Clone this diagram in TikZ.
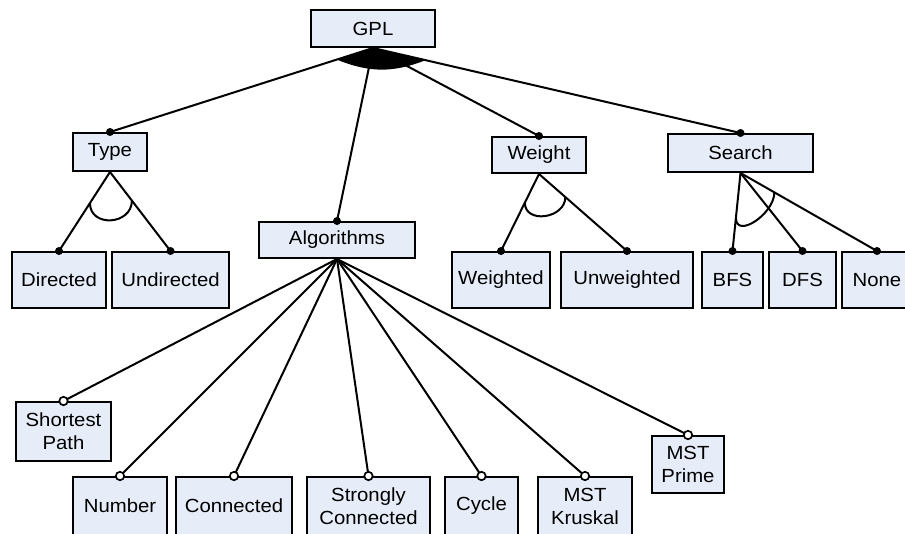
\documentclass[tikz,border=0pt]{standalone}
\usepackage{fontspec}
\setmainfont{Liberation Sans}[FakeStretch=1.07]
\usetikzlibrary{calc}
\definecolor{boxfill}{RGB}{231,237,248}
\begin{document}
\begin{tikzpicture}[x=1pt,y=1pt,
  feat/.style={draw, fill=boxfill, line width=2pt, inner sep=0pt, align=center,
               font=\fontsize{19}{23}\selectfont},
  link/.style={line width=2pt},
  mandot/.style={fill=black},
  optdot/.style={fill=white, draw=black, line width=1.7pt}]
\clip (0,0) rectangle (905,-533);

% feature boxes
\node[feat, minimum width=124pt, minimum height=37pt] (gpl)    at (373,-28.5) {GPL};
\node[feat, minimum width=74pt,  minimum height=38pt] (type)   at (110,-152) {Type};
\node[feat, minimum width=156pt, minimum height=36pt] (algo)   at (337,-240) {Algorithms};
\node[feat, minimum width=94pt,  minimum height=36pt] (weight) at (539,-155) {Weight};
\node[feat, minimum width=145pt, minimum height=38pt] (search) at (740.5,-153) {Search};

\node[feat, minimum width=94pt,  minimum height=56pt] (dir)    at (59,-280) {Directed};
\node[feat, minimum width=117pt, minimum height=56pt] (undir)  at (170.5,-280) {Undirected};
\node[feat, minimum width=98pt,  minimum height=56pt] (wtd)    at (501,-280) {Weighted};
\node[feat, minimum width=132pt, minimum height=56pt] (unwtd)  at (627,-280) {Unweighted};
\node[feat, minimum width=61pt,  minimum height=56pt] (bfs)    at (732.5,-280) {BFS};
\node[feat, minimum width=67pt,  minimum height=56pt] (dfs)    at (802.5,-280) {DFS};
\node[feat, minimum width=70pt,  minimum height=56pt] (none)   at (877,-280) {None};

\node[feat, minimum width=95pt,  minimum height=59pt] (short)  at (63.5,-431.5) {Shortest\\Path};
\node[feat, minimum width=94pt,  minimum height=58pt] (number) at (120,-506) {Number};
\node[feat, minimum width=116pt, minimum height=58pt] (conn)   at (234,-506) {Connected};
\node[feat, minimum width=123pt, minimum height=58pt] (strong) at (368.5,-506) {Strongly\\Connected};
\node[feat, minimum width=73pt,  minimum height=58pt] (cycle)  at (481.5,-506) {Cycle};
\node[feat, minimum width=94pt,  minimum height=58pt] (krus)   at (585,-506) {MST\\Kruskal};
\node[feat, minimum width=72pt,  minimum height=57pt] (prime)  at (688,-464.5) {MST\\Prime};

% or-group under the root
\fill (gpl.south) -- ($(gpl.south)!38pt!(type.north)$)
      to[bend right=22] ($(gpl.south)!54pt!(search.north)$) -- cycle;

% connectors
\foreach \c in {type,algo,weight,search}
  \draw[link] (gpl.south) -- (\c.north);
\foreach \c in {dir,undir}
  \draw[link] (type.south) -- (\c.north);
\foreach \c in {wtd,unwtd}
  \draw[link] (weight.south) -- (\c.north);
\foreach \c in {bfs,dfs,none}
  \draw[link] (search.south) -- (\c.north);
\foreach \c in {short,number,conn,strong,cycle,krus,prime}
  \draw[link] (algo.south) -- (\c.north);

% alternative-group arcs
\draw[link] ($(type.south)!37pt!(dir.north)$)
  to[out=-90,in=-90,looseness=1.5] ($(type.south)!36pt!(undir.north)$);
\draw[link] ($(weight.south)!32pt!(wtd.north)$)
  to[out=-90,in=-90,looseness=1.35] ($(weight.south)!35pt!(unwtd.north)$);
\draw[link] ($(search.south)!45pt!(bfs.north)$)
  to[out=-90,in=-90,looseness=1.2] ($(search.south)!39pt!(none.north)$);

% end markers
\foreach \c in {type,algo,weight,search,dir,undir,wtd,unwtd,bfs,dfs,none}
  \fill[mandot] (\c.north) circle (4);
\foreach \c in {short,number,conn,strong,cycle,krus,prime}
  \filldraw[optdot] (\c.north) circle (4.2);
\end{tikzpicture}
\end{document}
